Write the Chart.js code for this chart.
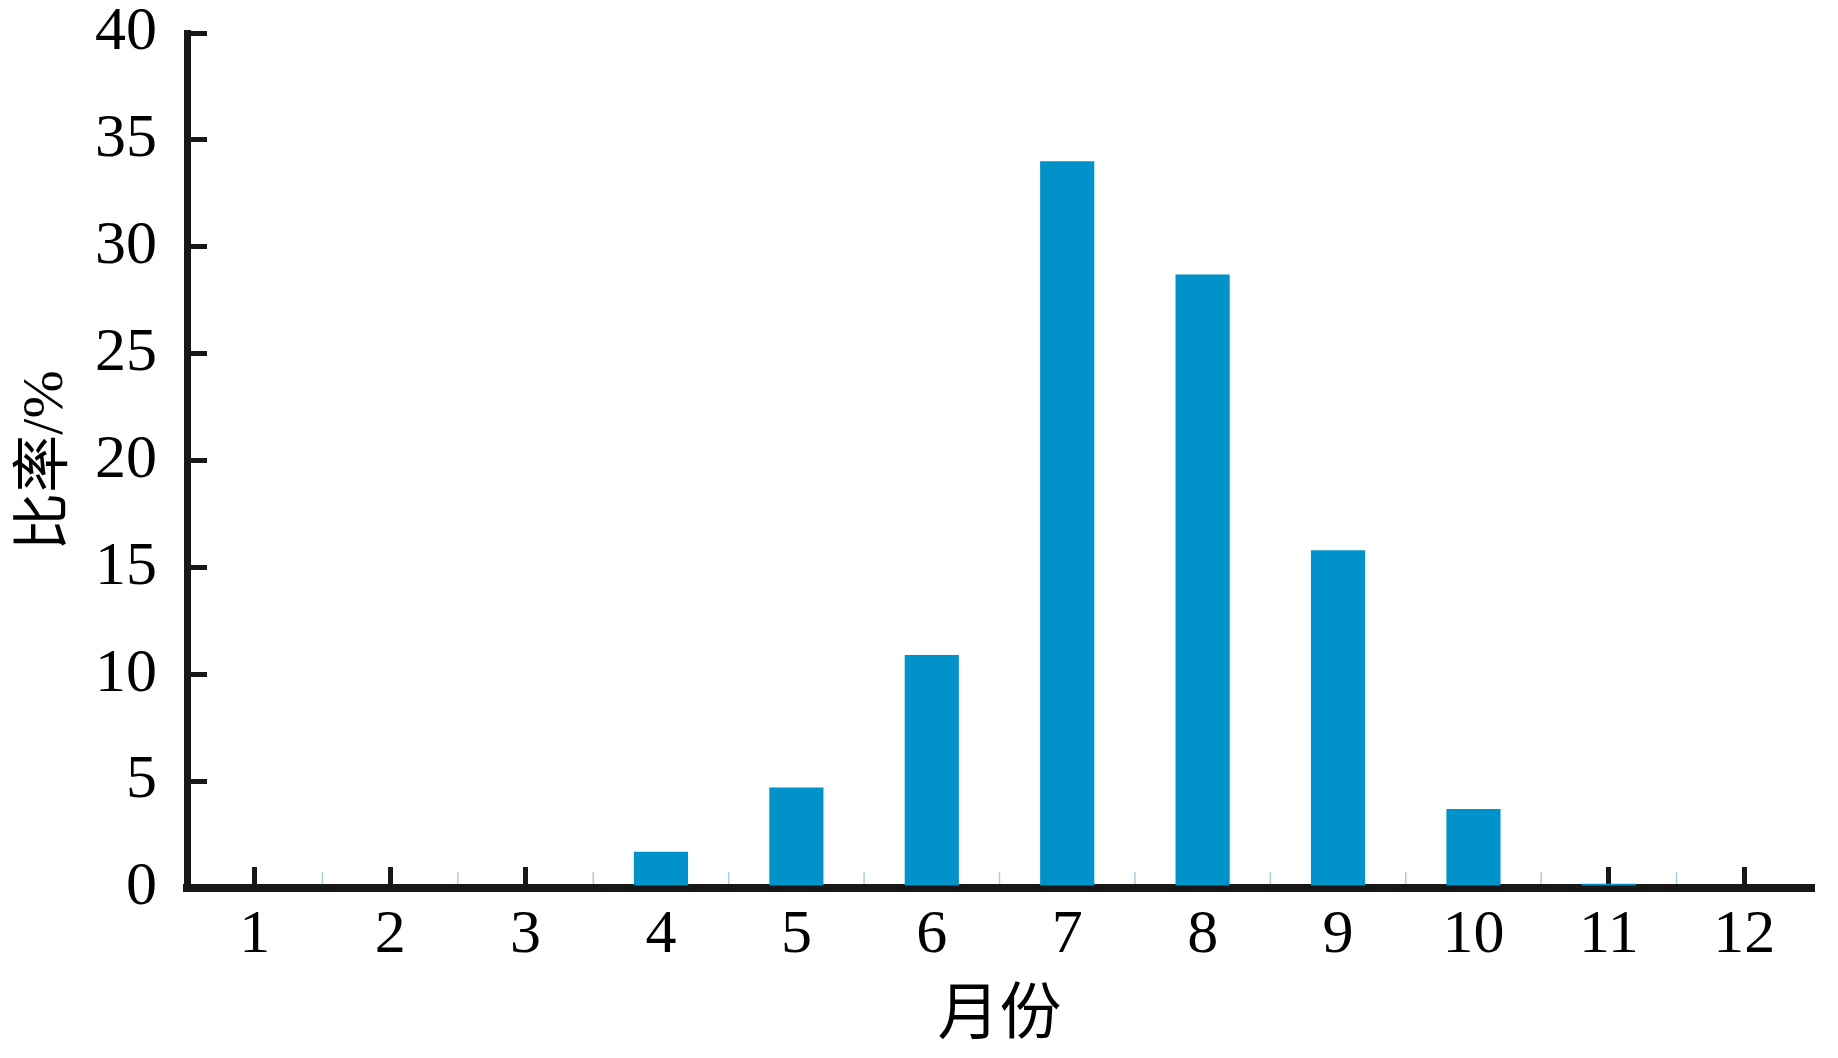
<!DOCTYPE html>
<html>
<head>
<meta charset="utf-8">
<script src="https://cdn.jsdelivr.net/npm/chart.js@4/dist/chart.umd.min.js"></script>
<style>
html,body{margin:0;padding:0;background:#fff;}
canvas{display:block;}
</style>
</head>
<body>
<canvas id="c" width="1838" height="1058"></canvas>
<script>
const months = ['1','2','3','4','5','6','7','8','9','10','11','12'];
const ratios = [0, 0, 0, 1.7, 4.7, 10.9, 34.0, 28.7, 15.8, 3.7, 0.2, 0];
const yTickMin = 0, yTickMax = 40, yTickStep = 5;
const xTitle = '月份';
const yTitle = '比率/%';

const SERIF = "'Liberation Serif', 'Noto Sans CJK SC', serif";
const AXIS = '#1a1816';

const minorTicks = {
  id: 'minorTicks',
  afterDraw(chart) {
    const x = chart.scales.x;
    const ctx = chart.ctx;
    const bottom = chart.chartArea.bottom;
    ctx.save();
    ctx.strokeStyle = '#a9cfe0';
    ctx.lineWidth = 1.5;
    for (let i = 0; i < months.length - 1; i++) {
      const px = (x.getPixelForTick(i) + x.getPixelForTick(i + 1)) / 2;
      ctx.beginPath();
      ctx.moveTo(px, bottom - 16);
      ctx.lineTo(px, bottom - 4);
      ctx.stroke();
    }
    ctx.restore();
  }
};

new Chart(document.getElementById('c'), {
  type: 'bar',
  data: {
    labels: months,
    datasets: [{
      data: ratios,
      backgroundColor: '#0092c8',
      borderWidth: 0,
      barPercentage: 0.4,
      categoryPercentage: 1.0
    }]
  },
  options: {
    responsive: false,
    animation: false,
    devicePixelRatio: 1,
    layout: { padding: { top: 33, right: 26, bottom: 0, left: 0 } },
    plugins: { legend: { display: false }, tooltip: { enabled: false } },
    scales: {
      x: {
        z: 1,
        offset: true,
        grid: {
          offset: false,
          drawOnChartArea: false,
          drawTicks: true,
          tickLength: -21,
          lineWidth: 5,
          color: AXIS
        },
        border: { display: true, width: 8, color: AXIS },
        ticks: {
          color: '#000',
          padding: 38,
          maxRotation: 0,
          autoSkip: false,
          font: { family: SERIF, size: 62, lineHeight: 1 }
        },
        title: {
          display: true,
          text: xTitle,
          color: '#000',
          padding: { top: 0, bottom: 9 },
          font: { family: SERIF, size: 62, lineHeight: 1 }
        },
        afterFit(scale) { scale.height = 170; scale.paddingLeft = 0; scale.paddingRight = 0; }
      },
      y: {
        z: 1,
        min: yTickMin,
        max: yTickMax,
        grid: {
          drawOnChartArea: false,
          drawTicks: true,
          tickLength: -20,
          lineWidth: 5,
          color: AXIS
        },
        border: { display: true, width: 7, color: AXIS },
        ticks: {
          stepSize: yTickStep,
          color: '#000',
          padding: 50,
          font: { family: SERIF, size: 62, lineHeight: 1 }
        },
        title: {
          display: true,
          text: yTitle,
          color: '#000',
          padding: { top: 12, bottom: 0 },
          font: { family: SERIF, size: 58, lineHeight: 1.2 }
        },
        afterFit(scale) { scale.width = 187; scale.paddingTop = 0; scale.paddingBottom = 0; }
      }
    }
  },
  plugins: [minorTicks]
});
</script>
</body>
</html>
